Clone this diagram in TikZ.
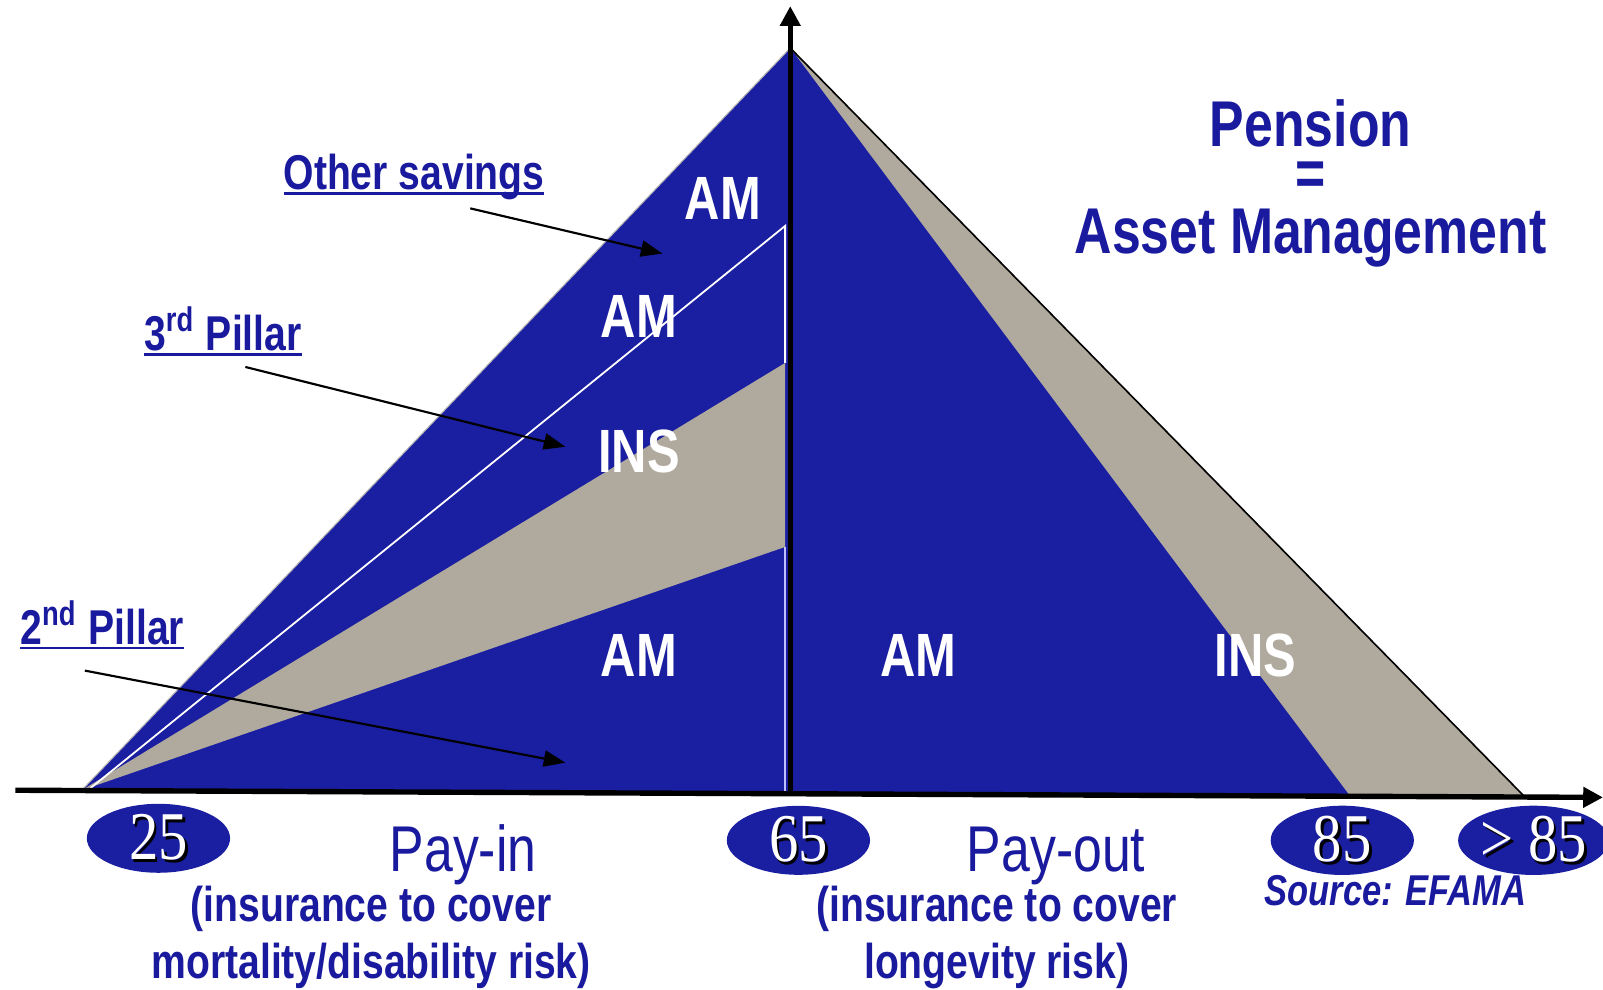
\documentclass[tikz,border=0pt]{standalone}
\usepackage{fontspec}
\setmainfont{Liberation Sans}
\newfontfamily\narrowsans[FakeStretch=0.8]{Liberation Sans}
\newfontfamily\narrowserif[FakeStretch=0.86]{Liberation Serif}
\usetikzlibrary{arrows.meta, shapes.geometric}

\definecolor{efblue}{RGB}{26,30,160}
\definecolor{efgrey}{RGB}{176,169,157}
\definecolor{txtblue}{RGB}{26,26,158}

% underlined label, rule sits just under the baseline
\newcommand{\ulabel}[1]{\setbox0\hbox{#1}\rlap{\rule[-1.5pt]{\wd0}{0.8pt}}\box0}
% white number with a black drop shadow
\newcommand{\shadownum}[1]{\rlap{\color{black}\kern0.8pt\raisebox{-0.8pt}{#1}}{\color{white}#1}}

\begin{document}
\begin{tikzpicture}[x=0.01cm, y=-0.01cm,
    tag/.style={text=white, anchor=base, inner sep=0pt,
                font=\narrowsans\bfseries\fontsize{17}{20}\selectfont},
    note/.style={text=txtblue, anchor=base, inner sep=0pt,
                 font=\narrowsans\bfseries\fontsize{13.6}{16}\selectfont},
    cover/.style={text=txtblue, anchor=north, inner sep=0pt, align=center,
                  font=\narrowsans\bfseries\fontsize{13.6}{15.9}\selectfont},
    phase/.style={text=txtblue, anchor=base, inner sep=0pt,
                  font=\narrowsans\fontsize{18}{20}\selectfont},
    title/.style={text=txtblue, anchor=base, inner sep=0pt,
                  font=\narrowsans\bfseries\fontsize{18}{20}\selectfont},
    agebox/.style={ellipse, fill=efblue, minimum width=1.4cm,
                   minimum height=0.56cm, inner sep=0pt,
                   font=\narrowserif\fontsize{19}{22}\selectfont},
    pointer/.style={-{Triangle[length=6pt,width=4.5pt]}, line width=0.6pt},
    axis/.style={-{Triangle[length=5.5pt,width=5.5pt]}, line width=1.5pt},
]
\useasboundingbox (0,0) rectangle (1568,968);

% --- Corner points ---
\coordinate (foot) at (80,773);
\coordinate (apex) at (773,47);
\coordinate (mid) at (773,776);
\coordinate (end85) at (1320,778);
\coordinate (endmax) at (1490,778);

% --- Pay-in side ---
\filldraw[fill=efblue, draw=gray!60, line width=0.3pt] (foot) -- (apex) -- (mid) -- cycle;
\fill[efgrey] (foot) -- (768,355) -- (768,535) -- cycle;
\draw[white, line width=0.5pt] (86,773) -- (768,221) -- (768,355);
\draw[blue!25, line width=0.4pt] (768,535) -- (768,776);

% --- Pay-out side ---
\fill[efgrey] (apex) -- (endmax) -- (mid) -- cycle;
\fill[efblue] (apex) -- (end85) -- (mid) -- cycle;
\draw[line width=0.45pt] (apex) -- (endmax);

% --- Axes ---
\draw[axis] (15,773) -- (1568,780);
\draw[axis] (773,778) -- (773,6);

% --- Region labels ---
\node[tag] (amtop) at (707,215) {AM};
\node[tag] (amthird) at (625,330) {AM};
\node[tag] (insthird) at (625,462) {INS};
\node[tag] (amsecond) at (625,662) {AM};
\node[tag] (amout) at (898,662) {AM};
\node[tag] (insout) at (1228,662) {INS};

% --- Pillar notes ---
\node[note] (othersav) at (405,185) {\ulabel{Other savings}};
\node[note] (pillar3) at (218,343) {\ulabel{3\textsuperscript{rd} Pillar}};
\node[note] (pillar2) at (100,630) {\ulabel{2\textsuperscript{nd} Pillar}};

\coordinate (tipsav) at (648,248);
\coordinate (tip3) at (553,437);
\coordinate (tip2) at (553,746);
\draw[pointer] ([shift={(55,8)}]othersav.south) -- (tipsav);
\draw[pointer] ([shift={(22,10)}]pillar3.south) -- (tip3);
\draw[pointer] ([shift={(-17,20)}]pillar2.south) -- (tip2);

% --- Title ---
\node[title] (pension) at (1282,143) {Pension};
\node[title, anchor=center] (equals) at (1282,175) {=};
\node[title] (assetmgmt) at (1282,248) {Asset Management};

% --- Ages ---
\node[agebox] (age25) at (155,820) {\shadownum{25}};
\node[agebox] (age65) at (781,822) {\shadownum{65}};
\node[agebox] (age85) at (1313,822) {\shadownum{85}};
\node[agebox] (agemax) at (1500,822) {\shadownum{> 85}};

% --- Phases ---
\node[phase] (payin) at (453,852) {Pay-in};
\node[cover] (payincover) at (363,866) {(insurance to cover\\mortality/disability risk)};
\node[phase] (payout) at (1033,852) {Pay-out};
\node[cover] (payoutcover) at (975,866) {(insurance to cover\\longevity risk)};

\node[note, font=\narrowsans\bfseries\itshape\fontsize{12}{14}\selectfont] (source) at (1365,886) {Source: EFAMA};
\end{tikzpicture}
\end{document}
